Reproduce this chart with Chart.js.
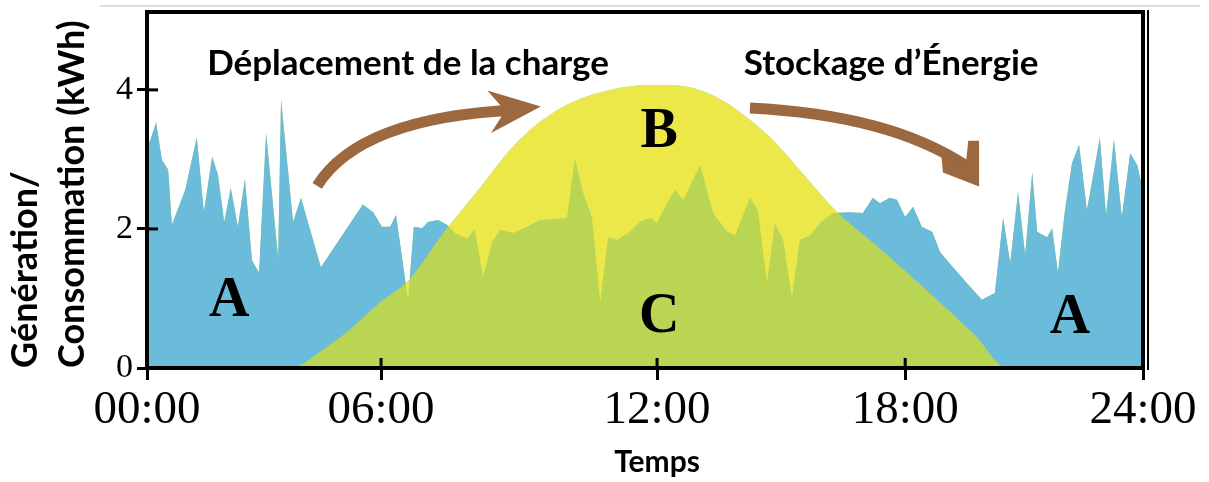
<!DOCTYPE html>
<html>
<head>
<meta charset="utf-8">
<script src="https://cdn.jsdelivr.net/npm/chart.js@4.4.0/dist/chart.umd.min.js"></script>
<style>
    html, body { margin: 0; padding: 0; background: #fff; }
</style>
</head>
<body>
<canvas id="grafico" width="1209" height="482"></canvas>
<script>
// consommation (courbe A) - heures / kWh
const consHeures = [0, 0.22, 0.36, 0.51, 0.60, 0.92, 1.20, 1.37, 1.57, 1.71, 1.86, 2.02, 2.19, 2.36, 2.53, 2.70, 2.87, 3.16, 3.23, 3.52,
    3.71, 4.19, 5.20, 5.45, 5.66, 5.86, 6.00, 6.29, 6.43, 6.63, 6.77, 7.01, 7.23, 7.42, 7.71, 7.90, 8.10, 8.31, 8.51, 8.82,
    9.16, 9.47, 10.12, 10.31, 10.51, 10.72, 10.92, 11.11, 11.33, 11.64, 11.88, 12.12, 12.29, 12.53, 12.72, 12.92, 13.33, 13.64, 13.98, 14.17,
    14.29, 14.53, 14.72, 14.94, 15.13, 15.33, 15.54, 15.73, 15.98, 16.22, 16.53, 16.94, 17.25, 17.49, 17.66, 17.90, 18.07, 18.27, 18.46, 18.67,
    18.92, 19.11, 19.42, 19.76, 20.12, 20.43, 20.63, 20.80, 20.99, 21.16, 21.33, 21.45, 21.69, 21.81, 21.95, 22.12, 22.29, 22.46, 22.65, 22.96,
    23.11, 23.30, 23.49, 23.69, 23.86, 24.00];
const consKwh = [3.14, 3.53, 2.99, 2.85, 2.06, 2.56, 3.32, 2.24, 3.04, 2.78, 2.10, 2.59, 2.03, 2.72, 1.55, 1.37, 3.38, 1.58, 3.86, 2.10,
    2.45, 1.45, 2.35, 2.24, 2.03, 2.03, 2.20, 0.98, 2.03, 2.01, 2.10, 2.13, 2.06, 1.94, 1.86, 1.99, 1.31, 1.80, 1.99, 1.94,
    2.03, 2.13, 2.16, 3.02, 2.52, 2.17, 0.95, 1.88, 1.84, 1.96, 2.10, 2.16, 2.09, 2.37, 2.56, 2.42, 2.92, 2.23, 1.96, 1.91,
    2.09, 2.45, 2.27, 1.22, 2.09, 1.84, 1.01, 1.84, 1.91, 2.09, 2.23, 2.24, 2.23, 2.45, 2.37, 2.45, 2.42, 2.17, 2.32, 2.03,
    1.96, 1.67, 1.45, 1.22, 0.98, 1.08, 2.16, 1.51, 2.53, 1.63, 2.81, 1.96, 1.88, 2.01, 1.37, 2.27, 2.95, 3.21, 2.27, 3.31,
    2.20, 3.29, 2.17, 3.09, 2.92, 2.56];

// génération solaire (courbe B)
const genHeures = [0, 3.37, 3.69, 4.17, 4.89, 5.61, 6.27, 7.23, 8.02, 8.75, 9.47, 10.27, 11.16, 12.12, 12.84, 13.57, 14.29, 15.08, 15.90,
    16.63, 17.49, 18.31, 19.11, 19.95, 20.72, 24];
const genKwh = [0, 0, 0.04, 0.23, 0.55, 0.94, 1.24, 2.01, 2.59, 3.14, 3.54, 3.83, 4.00, 4.07, 4.06, 3.94, 3.68, 3.28, 2.73,
    2.24, 1.80, 1.37, 0.94, 0.47, 0, 0];

// axes
const tickHeures = [0, 5.64, 12.29, 18.27, 24];
const tickTextes = ['00:00', '06:00', '12:00', '18:00', '24:00'];
const tickKwh = [0, 2, 4];

// textes posés sur le graphique (heure, kWh)
const lettres = [['A', 1.98, 0.96], ['B', 12.34, 3.38], ['C', 12.34, 0.72], ['A', 22.24, 0.71]];
const legendes = [['Déplacement de la charge', 6.29, 4.37], ['Stockage d’Énergie', 17.93, 4.37]];
const titreX = ['Temps', 12.29];
const flechas = [
    {
        tige: [[4.10, 2.62], [5.13, 3.60], [8.87, 3.71]],
        tete: [[8.20, 3.99], [9.49, 3.76], [8.29, 3.38], [8.63, 3.70]]
    },
    {
        tige: [[14.53, 3.74], [17.90, 3.64], [19.73, 2.91]],
        tete: [[19.14, 3.07], [19.73, 2.93], [19.79, 3.27], [20.05, 3.27], [20.05, 2.61], [19.18, 2.81]]
    }
];

const bleu = '#6bbcdb';
const jaune = '#ece84a';
const vert = '#bad453';
const brun = '#9c6840';

let consommation = [];
for (let i = 0; i < consHeures.length; i++) {
    consommation.push({ x: consHeures[i], y: consKwh[i] });
}
let generation = [];
for (let i = 0; i < genHeures.length; i++) {
    generation.push({ x: genHeures[i], y: genKwh[i] });
}

const decor = {
    id: 'decor',
    afterDatasetsDraw(chart) {
        const ctx = chart.ctx;
        const a = chart.chartArea;
        const sx = chart.scales.x;
        const sy = chart.scales.y;
        const px = h => sx.getPixelForValue(h);
        const py = v => sy.getPixelForValue(v);
        ctx.save();

        // flèches
        ctx.strokeStyle = brun;
        ctx.fillStyle = brun;
        ctx.lineWidth = 11;
        ctx.lineCap = 'butt';
        flechas.forEach(f => {
            ctx.beginPath();
            ctx.moveTo(px(f.tige[0][0]), py(f.tige[0][1]));
            ctx.quadraticCurveTo(px(f.tige[1][0]), py(f.tige[1][1]), px(f.tige[2][0]), py(f.tige[2][1]));
            ctx.stroke();
            ctx.beginPath();
            f.tete.forEach((p, i) => {
                if (i == 0) ctx.moveTo(px(p[0]), py(p[1]));
                else ctx.lineTo(px(p[0]), py(p[1]));
            });
            ctx.closePath();
            ctx.fill();
        });

        // textes
        ctx.fillStyle = '#000';
        ctx.textAlign = 'center';
        ctx.textBaseline = 'middle';
        ctx.font = 'bold 35px Lato';
        legendes.forEach(l => ctx.fillText(l[0], px(l[1]), py(l[2])));
        ctx.font = 'bold 56px "Liberation Serif"';
        lettres.forEach(l => ctx.fillText(l[0], px(l[1]), py(l[2])));
        ctx.font = 'bold 30px Lato';
        ctx.fillText(titreX[0], px(titreX[1]), 462);

        // cadre
        ctx.strokeStyle = '#000';
        ctx.lineWidth = 4;
        ctx.strokeRect(a.left, a.top, a.right - a.left, a.bottom - a.top);
        ctx.lineWidth = 2;
        ctx.beginPath();
        ctx.moveTo(a.right + 5, a.top - 2);
        ctx.lineTo(a.right + 5, a.bottom + 2);
        ctx.stroke();

        // graduations vers l'intérieur
        ctx.lineWidth = 3;
        sy.ticks.forEach(t => {
            const yy = py(t.value);
            ctx.beginPath();
            ctx.moveTo(a.left, yy);
            ctx.lineTo(a.left + 11, yy);
            ctx.stroke();
        });
        sx.ticks.forEach(t => {
            const xx = px(t.value);
            ctx.beginPath();
            ctx.moveTo(xx, a.bottom);
            ctx.lineTo(xx, a.bottom - 10);
            ctx.stroke();
        });

        // trait gris en haut
        ctx.strokeStyle = '#dcdcdc';
        ctx.lineWidth = 2;
        ctx.beginPath();
        ctx.moveTo(100, 6);
        ctx.lineTo(1200, 6);
        ctx.stroke();
        ctx.restore();
    }
};

var ctx = document.getElementById('grafico');
var miGrafico = new Chart(ctx, {
    type: 'line',
    data: {
        datasets: [{
            label: 'Consommation (au-dessus)',
            data: consommation,
            fill: { target: 1, above: bleu, below: 'rgba(0,0,0,0)' },
            borderWidth: 0,
            pointRadius: 0,
            order: 0
        }, {
            label: 'Génération',
            data: generation,
            fill: 'origin',
            backgroundColor: jaune,
            borderWidth: 0,
            pointRadius: 0,
            cubicInterpolationMode: 'monotone',
            order: 2
        }, {
            label: 'Autoconsommation',
            data: consommation,
            fill: 'origin',
            backgroundColor: vert,
            borderWidth: 0,
            pointRadius: 0,
            order: 1
        }]
    },
    options: {
        responsive: false,
        animation: false,
        devicePixelRatio: 1,
        layout: { padding: { left: 0, right: 66, top: 12, bottom: 0 } },
        plugins: {
            legend: { display: false },
            tooltip: { enabled: false }
        },
        scales: {
            x: {
                type: 'linear',
                min: 0,
                max: 24,
                afterFit: scale => { scale.height = 114; },
                afterBuildTicks: scale => { scale.ticks = tickHeures.map(v => ({ value: v })); },
                grid: { display: true, drawOnChartArea: false, drawTicks: true, tickLength: 12, color: '#000', lineWidth: 3 },
                border: { display: false },
                ticks: {
                    autoSkip: false,
                    maxRotation: 0,
                    padding: 2,
                    color: '#000',
                    font: { family: 'Liberation Serif', size: 47 },
                    callback: (v, i) => tickTextes[i]
                },
                title: { display: false }
            },
            y: {
                min: 0,
                max: 5.12,
                afterFit: scale => {
                    scale.width = 147;
                    scale.paddingTop = 0;
                    scale.paddingBottom = 0;
                },
                afterBuildTicks: scale => { scale.ticks = tickKwh.map(v => ({ value: v })); },
                grid: { display: true, drawOnChartArea: false, drawTicks: true, tickLength: 10, color: '#000', lineWidth: 3 },
                border: { display: false },
                ticks: {
                    padding: 4,
                    color: '#000',
                    font: { family: 'Liberation Serif', size: 34 }
                },
                title: {
                    display: true,
                    text: ['Génération/', 'Consommation (kWh)'],
                    align: 'start',
                    color: '#000',
                    font: { family: 'Lato', weight: 'bold', size: 36, lineHeight: 1.3 },
                    padding: { top: 2, bottom: 0 }
                }
            }
        }
    },
    plugins: [decor]
});
</script>
</body>
</html>
